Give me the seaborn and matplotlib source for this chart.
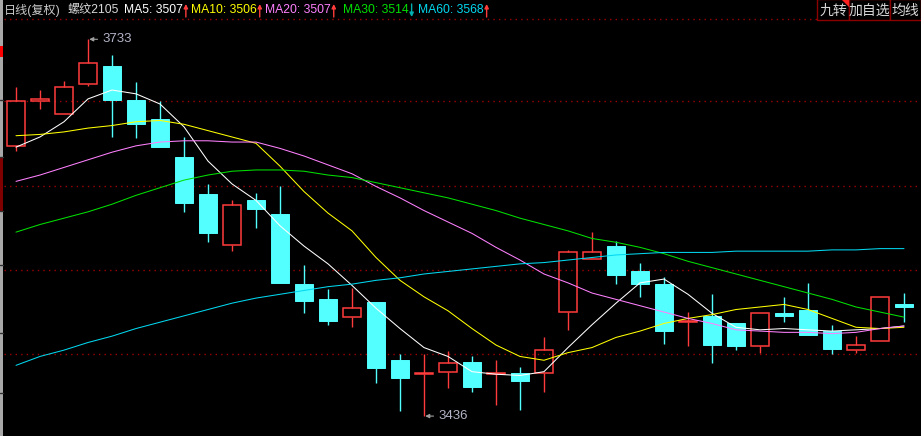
import numpy as np
import pandas as pd
import seaborn as sns
import matplotlib.pyplot as plt
from matplotlib.patches import Rectangle, Polygon

# daily candles, 螺纹2105 (复权)
opens = [3649, 3684, 3674, 3698, 3712, 3685, 3670, 3640, 3611, 3571, 3606, 3595, 3540, 3528, 3514, 3526, 3480, 3469, 3471,
         3479, 3469, 3470, 3470, 3518, 3560, 3570, 3550, 3540, 3510, 3515, 3509, 3491, 3517, 3520, 3503, 3488, 3495, 3524]
highs = [3695, 3693, 3700, 3733, 3721, 3699, 3684, 3656, 3619, 3606, 3612, 3617, 3555, 3536, 3537, 3526, 3485, 3485, 3487,
         3483, 3480, 3475, 3498, 3567, 3581, 3574, 3557, 3546, 3518, 3532, 3509, 3517, 3530, 3541, 3508, 3499, 3530, 3533]
lows = [3645, 3678, 3674, 3696, 3656, 3655, 3648, 3597, 3573, 3566, 3584, 3541, 3517, 3508, 3506, 3462, 3440, 3436, 3458,
        3455, 3445, 3441, 3455, 3504, 3560, 3540, 3530, 3493, 3491, 3478, 3488, 3486, 3510, 3500, 3485, 3486, 3495, 3510]
closes = [3684, 3686, 3695, 3714, 3685, 3666, 3648, 3604, 3580, 3602, 3599, 3541, 3527, 3511, 3521, 3474, 3466, 3470, 3478,
          3459, 3470, 3464, 3488, 3565, 3565, 3547, 3540, 3503, 3511, 3492, 3491, 3517, 3515, 3500, 3489, 3492, 3530, 3522]

ma5 = [3648, 3656, 3668, 3686, 3693, 3690, 3682, 3664, 3637, 3619, 3606, 3586, 3570, 3556, 3539, 3521, 3505, 3490, 3483,
       3471, 3469, 3468, 3471, 3490, 3508, 3525, 3541, 3544, 3532, 3517, 3506, 3504, 3505, 3504, 3503, 3504, 3505, 3507]
ma10 = [3657, 3658, 3660, 3663, 3665, 3668, 3669, 3666, 3661, 3656, 3651, 3633, 3613, 3596, 3582, 3561, 3543, 3530, 3519,
        3505, 3492, 3483, 3480, 3486, 3490, 3498, 3503, 3509, 3513, 3516, 3520, 3522, 3524, 3520, 3513, 3506, 3505, 3506]
ma20 = [3621, 3626, 3632, 3638, 3644, 3649, 3652, 3653, 3653, 3652, 3652, 3647, 3641, 3634, 3627, 3617, 3608, 3598, 3589,
        3580, 3569, 3559, 3548, 3541, 3533, 3528, 3523, 3518, 3513, 3509, 3504, 3503, 3502, 3502, 3501, 3502, 3505, 3507]
ma30 = [3581, 3587, 3592, 3597, 3603, 3610, 3616, 3622, 3626, 3629, 3630, 3630, 3629, 3626, 3624, 3620, 3616, 3612, 3608,
        3603, 3598, 3592, 3587, 3582, 3576, 3573, 3569, 3564, 3558, 3553, 3548, 3543, 3538, 3533, 3528, 3522, 3518, 3514]
ma60 = [3476, 3483, 3488, 3494, 3499, 3505, 3510, 3515, 3520, 3525, 3529, 3532, 3535, 3538, 3540, 3543, 3545, 3548, 3550,
        3552, 3554, 3556, 3557, 3559, 3561, 3563, 3564, 3565, 3565, 3565, 3566, 3566, 3566, 3566, 3567, 3567, 3568, 3568]

ma_names = ["MA5", "MA10", "MA20", "MA30", "MA60"]
ma_last = [3507, 3506, 3507, 3514, 3568]
ma_rising = [True, True, True, False, True]
ma_colors = ["#ffffff", "#ffff00", "#ff80ff", "#00e000", "#00d8f0"]
grid_levels = [3684, 3617, 3551, 3485]
buttons = ["九转", "加自选", "均线"]

UP = "#ff3c3c"
DOWN = "#54ffff"

sns.set_style("dark", {"axes.facecolor": "black", "figure.facecolor": "black"})
plt.rcParams["font.family"] = ["Liberation Sans", "Noto Sans CJK SC", "DejaVu Sans"]

fig = plt.figure(figsize=(9.21, 4.36), dpi=100, facecolor="black")
ax = fig.add_axes([4 / 921, 0, 917 / 921, 416 / 436])
ax.set_facecolor("black")

n = len(closes)
idx = np.arange(n)
o = np.array(opens); c = np.array(closes); h = np.array(highs); l = np.array(lows)
up = c >= o
w = 0.78

# grid
for g in grid_levels:
    ax.axhline(g, color="#a00000", lw=1, ls=(0, (1, 3)), zorder=1)

# down candles: full wick then filled body
ax.vlines(idx[~up], l[~up], h[~up], color=DOWN, lw=1, zorder=2)
ax.bar(idx[~up], c[~up] - o[~up], bottom=o[~up], width=w, color=DOWN, edgecolor=DOWN, lw=0.7, zorder=3)

# up candles: hollow body, wicks outside the body
top = np.maximum(o, c); bot = np.minimum(o, c)
ax.vlines(idx[up], top[up], h[up], color=UP, lw=1, zorder=2)
ax.vlines(idx[up], l[up], bot[up], color=UP, lw=1, zorder=2)
ax.bar(idx[up], np.maximum(c[up] - o[up], 0.4), bottom=o[up], width=w, facecolor="none",
       edgecolor=UP, lw=1.1, zorder=3)

# moving averages
df = pd.DataFrame({"idx": np.tile(idx, 5),
                   "value": ma5 + ma10 + ma20 + ma30 + ma60,
                   "ma": np.repeat(ma_names, n)})
sns.lineplot(data=df, x="idx", y="value", hue="ma", palette=dict(zip(ma_names, ma_colors)),
             lw=0.75, legend=False, ax=ax, zorder=4)

# high / low marks
hi_i = int(np.argmax(h)); lo_i = int(np.argmin(l))
for i, val in [(hi_i, h[hi_i]), (lo_i, l[lo_i])]:
    ax.annotate(f"{val}", xy=(i + 0.05, val), xytext=(13, 0), textcoords="offset pixels",
                ha="left", va="center", color="#b4b4c8", fontsize=9.5,
                arrowprops=dict(arrowstyle="-|>", color="#a0a0a0", lw=0.8, shrinkA=1, shrinkB=0,
                                mutation_scale=6), zorder=5)

ax.set_xlim(-0.5, (921 - 16) / 24)
ax.set_ylim(3420.3, 3748.2)
ax.set_xticks([]); ax.set_yticks([])
ax.set_xlabel(""); ax.set_ylabel("")
for s in ax.spines.values():
    s.set_visible(False)

# overlay in pixel coords for the header / frame decorations
ov = fig.add_axes([0, 0, 1, 1], facecolor="none")
ov.set_xlim(0, 921); ov.set_ylim(436, 0)
ov.axis("off")

# left strip
ov.add_patch(Rectangle((0, 0), 3, 436, color="#a8a8a8", lw=0))
ov.add_patch(Rectangle((0, 46), 3, 11, color="#ff0000", lw=0))
ov.add_patch(Rectangle((0, 157), 3, 54, color="#800000", lw=0))
for yy in [100, 157, 211, 265, 333, 393]:
    ov.plot([0, 3], [yy, yy], color="#303030", lw=1)

# top separator
ov.plot([4, 817], [19.5, 19.5], color="#a00000", lw=1, ls=(0, (1, 3)))

# header
fs = 8.7
ov.text(4, 10, "日线(复权)", color="#c8c8c8", fontsize=fs, va="center", ha="left")
ov.text(68, 10, "螺纹2105", color="#d8d8d8", fontsize=fs, va="center", ha="left")
fig.canvas.draw()
r = fig.canvas.get_renderer()
starts = [124, 191, 265, 343, 418]
for x0, name, val, rising, col in zip(starts, ma_names, ma_last, ma_rising, ma_colors):
    t = ov.text(x0, 10, f"{name}: {val}", color=col, fontsize=fs, va="center", ha="left")
    bb = t.get_window_extent(r)
    xa = bb.x1 + 3
    if rising:
        ov.annotate("", xy=(xa, 4), xytext=(xa, 17),
                    arrowprops=dict(arrowstyle="-|>", color=UP, lw=1, mutation_scale=6,
                                    shrinkA=0, shrinkB=0))
    else:
        ov.annotate("", xy=(xa, 17), xytext=(xa, 4),
                    arrowprops=dict(arrowstyle="-|>", color="#00b0b0", lw=1, mutation_scale=6,
                                    shrinkA=0, shrinkB=0))

# buttons
bx = [817, 849, 890, 921]
for k, lab in enumerate(buttons):
    ov.add_patch(Rectangle((bx[k], -1), bx[k + 1] - bx[k], 21, facecolor="black",
                           edgecolor="#8b0000", lw=1))
    ov.text((bx[k] + bx[k + 1]) / 2, 10.5, lab, color="#d8d8d8", fontsize=10, ha="center", va="center")
ov.add_patch(Polygon([(842, 0), (849, 0), (849, 7)], closed=True, color="#ff2020", lw=0))

fig.savefig("out.png", dpi=100, facecolor="black")
